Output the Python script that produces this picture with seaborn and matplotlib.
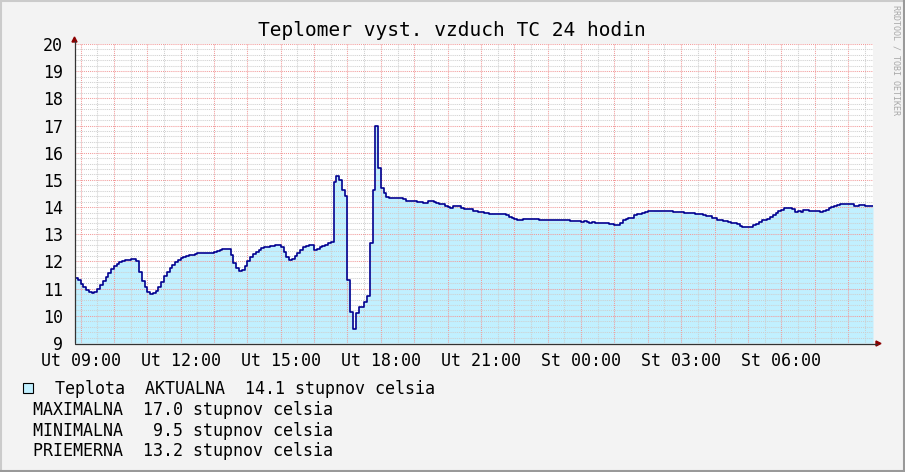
import pandas as pd
import matplotlib
matplotlib.use("Agg")
import matplotlib.pyplot as plt
import matplotlib.dates as mdates
import seaborn as sns
from matplotlib.ticker import MultipleLocator, FuncFormatter
from matplotlib.lines import Line2D
from matplotlib.patches import Rectangle, Polygon

# Teplota vzduchu, 5 minutove kroky od Ut 08:50
start_time = "2024-01-02 08:50"
step_minutes = 5
teplota = [
    # 08:50 - 13:20
    11.40, 11.32, 11.16, 11.05, 10.95, 10.87, 10.83, 10.86, 10.97, 11.13,
    11.29, 11.44, 11.59, 11.71, 11.83, 11.92, 11.97, 12.00, 12.04, 12.06,
    12.09, 12.10, 12.00, 11.62, 11.29, 11.05, 10.87, 10.80, 10.85, 10.91,
    11.05, 11.25, 11.46, 11.61, 11.75, 11.88, 11.98, 12.06, 12.13, 12.17,
    12.21, 12.25, 12.25, 12.27, 12.30, 12.30, 12.32, 12.32, 12.32, 12.32,
    12.35, 12.37, 12.41, 12.45,
    # do 16:35
    12.45, 12.45, 12.24, 11.93, 11.75, 11.66, 11.69, 11.83, 12.03, 12.17,
    12.27, 12.35, 12.42, 12.48, 12.52, 12.52, 12.56, 12.58, 12.59, 12.59,
    12.54, 12.34, 12.17, 12.06, 12.08, 12.20, 12.32, 12.42, 12.52, 12.57,
    12.62, 12.60, 12.42, 12.46, 12.52, 12.57, 12.60, 12.67, 12.73,
    # spicka okolo 17:00 - 18:00
    14.91, 15.15, 15.00, 14.63, 14.42, 11.32, 10.14, 9.50, 10.09, 10.34,
    10.34, 10.52, 10.73, 12.67, 14.63, 17.00, 15.43, 14.69, 14.51, 14.38,
    14.35, 14.32, 14.32, 14.32, 14.32, 14.29, 14.22, 14.22, 14.22, 14.22,
    14.17, 14.17, 14.14, 14.14, 14.21, 14.21, 14.17, 14.14,
    # vecer
    14.10, 14.10, 14.05, 14.02, 13.98, 14.03, 14.03, 14.03, 13.98, 13.94,
    13.94, 13.92, 13.87, 13.87, 13.83, 13.83, 13.77, 13.79, 13.76, 13.76,
    13.73, 13.73, 13.73, 13.73, 13.71, 13.65, 13.59, 13.55, 13.52, 13.52,
    13.55, 13.55, 13.57, 13.55, 13.55, 13.55, 13.51,
    # noc
    13.51, 13.51, 13.51, 13.51, 13.51, 13.51, 13.51, 13.51, 13.51, 13.51,
    13.48, 13.48, 13.48, 13.48, 13.44, 13.48, 13.44, 13.40, 13.44, 13.40,
    13.40, 13.40, 13.40, 13.40, 13.38, 13.38, 13.34, 13.34, 13.43, 13.52,
    13.56, 13.61, 13.61, 13.71, 13.75, 13.75, 13.77, 13.81, 13.84, 13.84,
    13.87, 13.87, 13.87, 13.84, 13.84, 13.84, 13.84, 13.82, 13.82, 13.82,
    13.82, 13.78, 13.78, 13.78, 13.78, 13.75, 13.75,
    # rano
    13.73, 13.71, 13.67, 13.67, 13.59, 13.59, 13.52, 13.52, 13.49, 13.49,
    13.45, 13.40, 13.40, 13.36, 13.32, 13.28, 13.25, 13.25, 13.25, 13.34,
    13.39, 13.44, 13.52, 13.52, 13.56, 13.65, 13.72, 13.79, 13.86, 13.90,
    13.98, 13.98, 13.95, 13.92, 13.83, 13.87, 13.83, 13.88, 13.88, 13.87,
    13.87, 13.87, 13.87, 13.82, 13.87, 13.89, 13.95, 14.02, 14.05, 14.09,
    14.13, 14.13, 14.10, 14.13, 14.13, 14.05, 14.05, 14.06, 14.06, 14.04,
    14.04, 14.04, 14.04,
]

title = "Teplomer vyst. vzduch TC 24 hodin"
series_name = "Teplota"
stat_names = ["AKTUALNA", "MAXIMALNA", "MINIMALNA", "PRIEMERNA"]
stat_values = [14.1, 17.0, 9.5, 13.2]
unit = "stupnov celsia"
day_names = ["Po", "Ut", "St", "Št", "Pi", "So", "Ne"]
y_min, y_max = 9, 20

df = pd.DataFrame({
    "cas": pd.date_range(start_time, periods=len(teplota), freq=f"{step_minutes}min"),
    "teplota": teplota,
})

sns.set_style("white")
plt.rcParams["font.family"] = ["DejaVu Sans Mono", "DejaVu Sans"]
plt.rcParams["text.color"] = "black"
plt.rcParams["xtick.color"] = "black"
plt.rcParams["ytick.color"] = "black"

W, H = 905, 472
fig = plt.figure(figsize=(W / 100, H / 100), dpi=100, facecolor="#F3F3F3")


def px(x, y):
    return x / W, 1 - y / H


ax = fig.add_axes([75 / W, 1 - 343 / H, 798 / W, 299 / H])
ax.set_facecolor("white")

fill_col = "#C1F0FF"
line_col = "#000090"
ax.fill_between(df["cas"], y_min, df["teplota"], step="post", color=fill_col, linewidth=0, zorder=1)
sns.lineplot(data=df, x="cas", y="teplota", ax=ax, color=line_col, linewidth=1.2,
             drawstyle="steps-post", zorder=4)

ax.set_xlim(df["cas"].iloc[0], df["cas"].iloc[-1])
ax.set_ylim(y_min, y_max)
ax.set_xlabel("")
ax.set_ylabel("")

# mriezka
ax.xaxis.set_major_locator(mdates.HourLocator())
ax.xaxis.set_minor_locator(mdates.MinuteLocator(byminute=[30]))
ax.yaxis.set_major_locator(MultipleLocator(1))
ax.yaxis.set_minor_locator(MultipleLocator(0.2))
ax.set_axisbelow(False)
ax.grid(which="minor", color="#CFCFCF", linestyle=(0, (1, 1)), linewidth=0.75)
ax.grid(which="major", color="#F29A9A", linestyle=(0, (1, 1)), linewidth=0.75)


def x_label(x, pos):
    t = pd.Timestamp(mdates.num2date(x)).round("min")
    if t.hour % 3:
        return ""
    return f"{day_names[t.weekday()]} {t:%H:%M}"


ax.xaxis.set_major_formatter(FuncFormatter(x_label))
ax.yaxis.set_major_formatter(FuncFormatter(lambda v, p: f"{v:.0f}"))

axis_col = "#333333"
ax.tick_params(axis="y", which="both", direction="out", length=2, width=0.8,
               color=axis_col, labelcolor="black", pad=6.5, labelsize=12)
ax.tick_params(axis="x", which="both", direction="out", length=2, width=0.8,
               color=axis_col, labelcolor="black", pad=4.5, labelsize=12)
for s in ax.spines.values():
    s.set_visible(False)

# osi so sipkami
fig.add_artist(Line2D(*zip(px(74.5, 343), px(74.5, 41)), color=axis_col, lw=0.9))
fig.add_artist(Line2D(*zip(px(74.5, 343.5), px(877, 343.5)), color=axis_col, lw=0.9))
arrow_col = "#8B0000"
fig.add_artist(Polygon([px(72, 42), px(77, 42), px(74.5, 37)], closed=True,
                       color=arrow_col, transform=fig.transFigure))
fig.add_artist(Polygon([px(876, 341), px(876, 346), px(881, 343.5)], closed=True,
                       color=arrow_col, transform=fig.transFigure))

# ram obrazka
fig.add_artist(Line2D([0, 1], [1 - 1 / H, 1 - 1 / H], color="#CBCBCB", lw=1.5))
fig.add_artist(Line2D([1 / W, 1 / W], [0, 1], color="#CBCBCB", lw=1.5))
fig.add_artist(Line2D([0, 1], [1 / H, 1 / H], color="#999999", lw=1.5))
fig.add_artist(Line2D([1 - 1 / W, 1 - 1 / W], [0, 1], color="#999999", lw=1.5))

# texty
fig.text(*px(452, 31), title, ha="center", va="center", fontsize=14, color="black")
fig.text(*px(896, 5), "RRDTOOL / TOBI OETIKER", rotation=270, ha="center", va="top",
         fontsize=6, color="#A8A8A8")

# legenda
fig.add_artist(Rectangle(px(23, 393), 10 / W, 10 / H, facecolor=fill_col, edgecolor="black",
                         lw=0.8, transform=fig.transFigure))
fig.text(*px(55, 394), f"{series_name}  {stat_names[0]}  {stat_values[0]:4.1f} {unit}",
         ha="left", va="baseline", fontsize=12, color="black")
for i, (name, val) in enumerate(zip(stat_names[1:], stat_values[1:])):
    fig.text(*px(33, 415 + 20.7 * i), f"{name}  {val:4.1f} {unit}",
             ha="left", va="baseline", fontsize=12, color="black")

fig.savefig("out.png", dpi=100, facecolor=fig.get_facecolor())
